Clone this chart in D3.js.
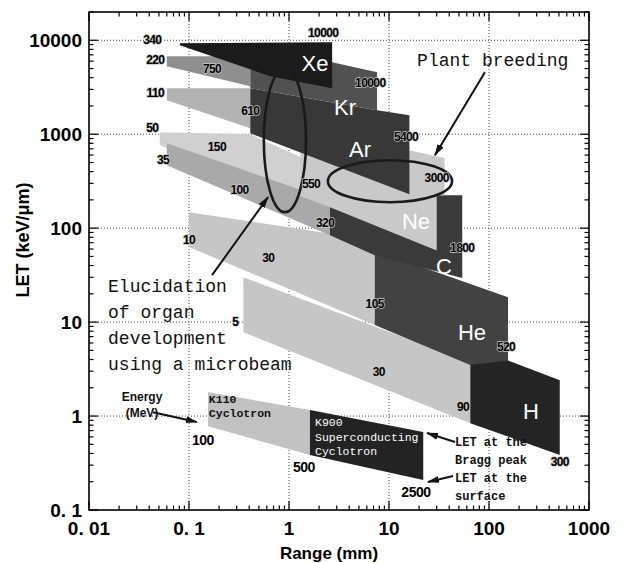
<!DOCTYPE html>
<html><head><meta charset="utf-8">
<script src="https://cdn.jsdelivr.net/npm/d3@7"></script>
<style>body{margin:0;background:#fff}svg{display:block}</style>
</head><body><svg id="c" width="625" height="563"></svg>
<script>
// ---------- data ----------
const xTicks = [0.01, 0.1, 1, 10, 100, 1000];
const xTickLabels = ["0. 01", "0. 1", "1", "10", "100", "1000"];
const yTicks = [0.1, 1, 10, 100, 1000, 10000];
const yTickLabels = ["0. 1", "1", "10", "100", "1000", "10000"];

// region outlines: [range (mm), LET (keV/um)]
const H_K110  = [[0.35,30],[65,3.75],[65,0.84],[0.35,7.8]];
const He_K110 = [[0.1,148],[7.2,74],[7.2,9.3],[0.1,63]];
const He_K900 = [[7.2,58],[155,18.4],[155,3.5],[65,3.5],[7.2,9.3]];
const H_K900  = [[65,3.5],[155,3.9],[510,2.4],[510,0.385],[65,0.84]];
const Ne_K110 = [[0.051,1050],[0.41,1000],[2.57,414],[2.57,167],[0.051,764]];
const C_K110  = [[0.06,800],[2.57,199],[2.57,84],[0.06,468]];
const C_K900  = [[2.57,199],[30,224],[54,224],[54,29.4],[7.2,51.6],[2.57,84]];
const Ne_K900 = [[1.3,676],[16,676],[36,556],[36,224],[30,224],[30,58],[2.57,167],[1.3,219]];
const Ar_K110 = [[0.06,3090],[0.41,3090],[0.41,1160],[0.06,2300]];
const Ar_K900 = [[0.41,3090],[7.6,1800],[16,1590],[16,230],[0.41,1025]];
const Kr_K110 = [[0.06,6760],[0.41,6760],[0.41,3240],[0.06,5290]];
const Kr_K900 = [[0.41,6760],[2.7,5830],[7.6,4570],[7.6,1800],[0.41,3090]];
const Xe_K900 = [[0.081,9290],[2.7,9520],[2.7,3090],[0.65,4140],[0.081,8850]];
const Legend_K110 = [[0.155,1.8],[1.62,1.16],[1.62,0.385],[0.155,0.78]];
const Legend_K900 = [[1.62,1.16],[22,0.676],[22,0.209],[1.62,0.385]];

const ionNames = ["Xe","Kr","Ar","Ne","C","He","H"];
const ionRange = [1.82, 3.63, 5.13, 18.6, 35.5, 67.6, 263];
const ionLET   = [5690, 1940, 692, 119, 39.4, 7.83, 1.13];

const energyLabels = ["340","220","110","50","35","10","5","750","610","150","100","550","30","320","105","30","90","300","520","1800","3000","5400","10000","10000"];
const energyRange  = [0.043,0.046,0.046,0.043,0.055,0.10,0.29,0.17,0.41,0.19,0.32,1.66,0.62,2.3,7.2,7.9,55,510,148,54,30,14.8,2.2,6.5];
const energyLET    = [10000,6120,2730,1160,529,74.5,10,4910,1760,728,254,294,48,113,15.5,2.94,1.25,0.324,5.42,61,340,929,11900,3490];

const legendNumbers = ["100","500","2500"];
const legendNumRange = [0.138, 1.41, 18.6];
const legendNumLET = [0.556, 0.287, 0.155];

// annotation ellipses (bounding boxes in data units)
const plantEllipse = {x0:2.45, x1:42.7, y0:529, y1:189};
const microEllipse = {x0:0.56, x1:1.48, y0:5040, y1:148};

// arrows [from, to] in data units
const arrows = [
  [[91,4570],[28.8,598]],
  [[0.17,31.6],[0.617,214]],
  [[0.0437,1.10],[0.12,0.863]],
  [[45.7,0.529],[24.0,0.659]],
  [[43.7,0.230],[24.5,0.199]]
];

// ---------- chart ----------
const svg = d3.select("#c");
const x = d3.scaleLog().domain([0.01, 1000]).range([89, 589]);
const y = d3.scaleLog().domain([0.1, 20000]).range([510, 12]);
const X0 = x.range()[0], X1 = x.range()[1], Y0 = y.range()[0], Y1 = y.range()[1];

// grid
const g = svg.append("g");
[0.1,1,10,100].forEach(v => g.append("line").attr("x1",x(v)).attr("x2",x(v)).attr("y1",Y1).attr("y2",Y0)
  .attr("stroke","#444").attr("stroke-width",1).attr("stroke-dasharray","1,2"));
[1,10,100,1000,10000].forEach(v => g.append("line").attr("y1",y(v)).attr("y2",y(v)).attr("x1",X0).attr("x2",X1)
  .attr("stroke","#444").attr("stroke-width",1).attr("stroke-dasharray","1,2"));

// regions
const layers = [
  {pts:H_K110, fill:"#c6c6c6"},
  {pts:He_K110, fill:"#c6c6c6"},
  {pts:He_K900, fill:"#424242"},
  {pts:H_K900, fill:"#242424"},
  {pts:Ne_K110, fill:"#d0d0d0"},
  {pts:C_K110, fill:"#a9a9a9"},
  {pts:C_K900, fill:"#3a3a3a"},
  {pts:Ne_K900, fill:"#c9c9c9"},
  {pts:Ar_K110, fill:"#b3b3b3"},
  {pts:Ar_K900, fill:"#383838"},
  {pts:Kr_K110, fill:"#8f8f8f"},
  {pts:Kr_K900, fill:"#515151"},
  {pts:Xe_K900, fill:"#1b1b1b"},
  {pts:Legend_K110, fill:"#c2c2c2"},
  {pts:Legend_K900, fill:"#232323"}
];
const line = d3.line().x(d => x(d[0])).y(d => y(d[1])).curve(d3.curveLinearClosed);
svg.append("g").selectAll("path").data(layers).join("path")
  .attr("d", d => line(d.pts)).attr("fill", d => d.fill);

// ellipses
function drawEllipse(e){
  const cx = (x(e.x0)+x(e.x1))/2, cy = (y(e.y0)+y(e.y1))/2;
  svg.append("ellipse").attr("cx",cx).attr("cy",cy)
    .attr("rx",Math.abs(x(e.x1)-x(e.x0))/2).attr("ry",Math.abs(y(e.y1)-y(e.y0))/2)
    .attr("fill","none").attr("stroke","#1a1a1a").attr("stroke-width",2.6);
}
drawEllipse(plantEllipse);
drawEllipse(microEllipse);

// arrows
const defs = svg.append("defs");
defs.append("marker").attr("id","ah").attr("viewBox","0 0 12 8").attr("refX",11).attr("refY",4)
  .attr("markerWidth",12).attr("markerHeight",8).attr("markerUnits","userSpaceOnUse").attr("orient","auto")
  .append("path").attr("d","M0,0.5 L12,4 L0,7.5 Z").attr("fill","#111");
svg.append("g").selectAll("line").data(arrows).join("line")
  .attr("x1",d=>x(d[0][0])).attr("y1",d=>y(d[0][1])).attr("x2",d=>x(d[1][0])).attr("y2",d=>y(d[1][1]))
  .attr("stroke","#111").attr("stroke-width",2).attr("marker-end","url(#ah)");

// ion labels
svg.append("g").selectAll("text").data(ionNames).join("text")
  .attr("x",(d,i)=>x(ionRange[i])).attr("y",(d,i)=>y(ionLET[i]))
  .attr("text-anchor","middle").attr("dominant-baseline","central")
  .attr("font-family","Liberation Sans, Arial, sans-serif").attr("font-size",22).attr("fill","#fff")
  .text(d=>d);

// energy labels
svg.append("g").selectAll("text").data(energyLabels).join("text")
  .attr("x",(d,i)=>x(energyRange[i])).attr("y",(d,i)=>y(energyLET[i]))
  .attr("text-anchor","middle").attr("dominant-baseline","central")
  .attr("font-family","Liberation Sans, Arial, sans-serif").attr("font-weight","bold")
  .attr("font-size",12).attr("letter-spacing","-0.6")
  .attr("fill","#000").attr("stroke","#c8c8c8").attr("stroke-width",1.4).attr("paint-order","stroke")
  .text(d=>d);

svg.append("g").selectAll("text").data(legendNumbers).join("text")
  .attr("x",(d,i)=>x(legendNumRange[i])).attr("y",(d,i)=>y(legendNumLET[i]))
  .attr("text-anchor","middle").attr("dominant-baseline","central")
  .attr("font-family","Liberation Sans, Arial, sans-serif").attr("font-weight","bold")
  .attr("font-size",14).attr("letter-spacing","-0.5").attr("fill","#000")
  .text(d=>d);

// multi-line text helper
function mtext(lines, px, py, size, opts){
  const t = svg.append("text").attr("x",px).attr("y",py)
    .attr("font-family",opts.family).attr("font-size",size)
    .attr("font-weight",opts.weight||"normal").attr("fill",opts.fill||"#111")
    .attr("text-anchor",opts.anchor||"start");
  lines.forEach((l,i)=>t.append("tspan").attr("x",px).attr("dy",i===0?0:opts.lh).text(l));
}
const mono = "Liberation Mono, DejaVu Sans Mono, monospace";
mtext(["Plant breeding"], x(19.1), y(5290), 18, {family:mono, lh:0});
mtext(["Elucidation","of organ","development","using a microbeam"], x(0.0155), y(20.9), 18, {family:mono, lh:26});
mtext(["Energy","(MeV)"], x(0.0339), y(1.44), 12, {family:"Liberation Sans, Arial, sans-serif", weight:"bold", anchor:"middle", lh:16});
mtext(["K110","Cyclotron"], x(0.158), y(1.37), 11.5, {family:mono, weight:"bold", lh:13.5});
mtext(["K900","Superconducting","Cyclotron"], x(1.82), y(0.783), 11.5, {family:mono, fill:"#fff", lh:14.5});
mtext(["LET at the","Bragg peak","LET at the","surface"], x(45.7), y(0.48), 12, {family:mono, weight:"bold", lh:18});

// frame
svg.append("rect").attr("x",X0).attr("y",Y1).attr("width",X1-X0).attr("height",Y0-Y1)
  .attr("fill","none").attr("stroke","#000").attr("stroke-width",1.6);

// ticks
const tg = svg.append("g").attr("stroke","#000").attr("stroke-width",1.2);
const xMinor = [];
for (let e=-2;e<3;e++) for (let k=1;k<10;k++) xMinor.push({v:k*Math.pow(10,e), major:k===1});
xMinor.push({v:1000, major:true});
xMinor.forEach(t=>{
  const L = t.major?9:4.5, px = x(t.v);
  tg.append("line").attr("x1",px).attr("x2",px).attr("y1",Y0).attr("y2",Y0-L);
  tg.append("line").attr("x1",px).attr("x2",px).attr("y1",Y1).attr("y2",Y1+L);
});
const yMinor = [];
for (let e=-1;e<5;e++) for (let k=1;k<10;k++) { const v=k*Math.pow(10,e); if (v<=20000) yMinor.push({v, major:k===1}); }
yMinor.forEach(t=>{
  const L = t.major?9:4.5, py = y(t.v);
  tg.append("line").attr("y1",py).attr("y2",py).attr("x1",X0).attr("x2",X0+L);
  tg.append("line").attr("y1",py).attr("y2",py).attr("x1",X1).attr("x2",X1-L);
});

// tick labels
const sans = "Liberation Sans, Arial, sans-serif";
svg.append("g").selectAll("text").data(xTicks).join("text")
  .attr("x",d=>x(d)).attr("y",Y0+25).attr("text-anchor","middle")
  .attr("font-family",sans).attr("font-weight","bold").attr("font-size",19)
  .text((d,i)=>xTickLabels[i]);
svg.append("g").selectAll("text").data(yTicks).join("text")
  .attr("x",X0-7).attr("y",d=>y(d)).attr("dy","0.36em").attr("text-anchor","end")
  .attr("font-family",sans).attr("font-weight","bold").attr("font-size",19)
  .text((d,i)=>yTickLabels[i]);

// axis titles
svg.append("text").attr("x",(X0+X1)/2 - 10).attr("y",559).attr("text-anchor","middle")
  .attr("font-family",sans).attr("font-weight","bold").attr("font-size",17).text("Range  (mm)");
svg.append("text").attr("transform",`translate(29,${240}) rotate(-90)`).attr("text-anchor","middle")
  .attr("font-family",sans).attr("font-weight","bold").attr("font-size",18).text("LET  (keV/μm)");
</script></body></html>
